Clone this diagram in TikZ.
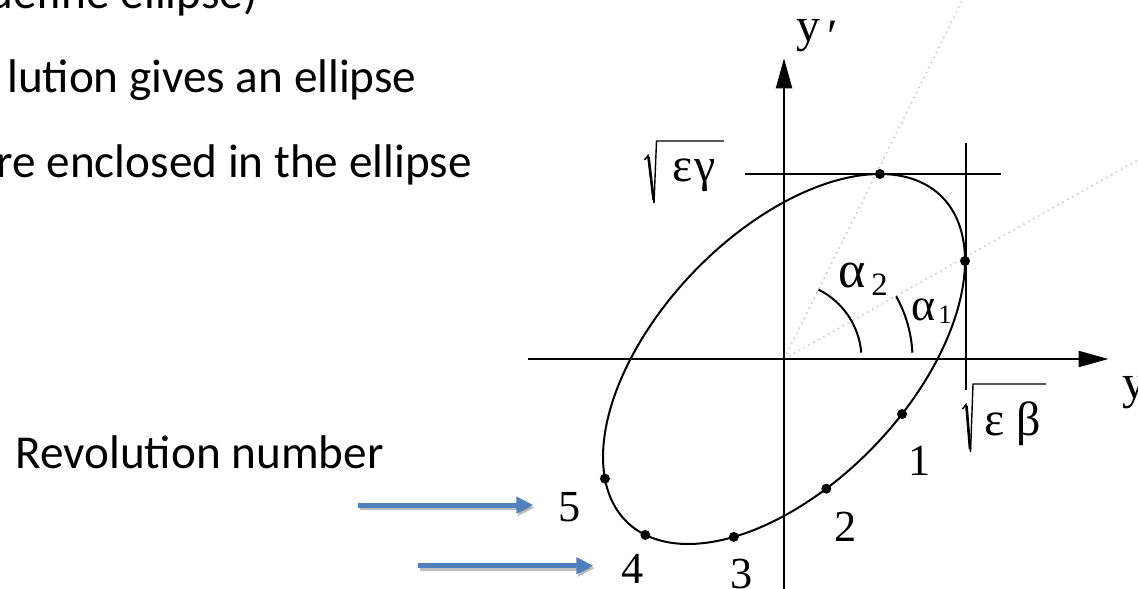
\documentclass[tikz,border=0pt]{standalone}
\usepackage{fontspec}
\setmainfont{Liberation Serif}
\newfontfamily\calibrifont{Carlito}
\newfontfamily\timesfont{Liberation Serif}
\usetikzlibrary{arrows.meta}
\definecolor{pptblue}{HTML}{4F81BD}
\definecolor{guidegray}{gray}{0.80}
\newcommand{\setfs}[1]{\fontsize{#1}{#1}\selectfont}
\tikzset{
  axisline/.style={line width=1.1pt,-{Triangle[length=15pt,width=8pt]}},
  plainline/.style={line width=1pt},
  curve/.style={line width=1pt},
  guide/.style={guidegray,line width=0.8pt,dotted},
  anglearc/.style={line width=1pt},
  pt/.style={circle,fill=black,inner sep=0pt,minimum size=5pt},
  bodytext/.style={inner sep=0pt,font=\calibrifont\setfs{23.6pt}},
  num/.style={inner sep=0pt,anchor=base,font=\timesfont\setfs{22.2pt}},
  greek/.style={inner sep=0pt,anchor=base west,font=\timesfont\setfs{24pt}},
  blueshadow/.style={black,opacity=0.25,line width=2.5pt,-{Triangle[length=8.5pt,width=8pt]}},
  bluearrow/.style={pptblue,line width=2.5pt,-{Triangle[length=8.5pt,width=8pt]}},
  radical/.style={line width=0.7pt,line join=miter}
}
\begin{document}
\begin{tikzpicture}[x=0.5pt,y=-0.5pt]
\useasboundingbox (0,0) rectangle (1138,588);
\clip (0,0) rectangle (1138,588);
\fill[white] (0,0) rectangle (1138,588);

% body text
\node[bodytext,anchor=base east] (t1) at (258,9) {define ellipse)};
\node[bodytext,anchor=base east] (t2) at (417,93) {lution gives an ellipse};
\node[bodytext,anchor=base east] (t3) at (472,177) {re enclosed in the ellipse};
\node[bodytext,anchor=base east] (rev) at (384,468.3) {Revolution number};

% origin and guides
\coordinate (O) at (784,359);
\coordinate (g1) at (962.5,0);
\coordinate (g2) at (1138,160);
\draw[guide] (O) -- (g1);
\draw[guide] (O) -- (g2);

% axes
\coordinate (xs) at (528,359);
\coordinate (xe) at (1108.5,359);
\coordinate (ys) at (784,590);
\coordinate (ye) at (784,58.3);
\draw[axisline] (xs) -- (xe);
\draw[axisline] (ys) -- (ye);

% tangent lines
\coordinate (hs) at (745,174);
\coordinate (he) at (1000.7,174);
\coordinate (vs) at (965.5,143.4);
\coordinate (ve) at (965.5,390);
\draw[plainline] (hs) -- (he);
\draw[plainline] (vs) -- (ve);

% ellipse
\draw[curve] plot[domain=0:360,samples=240] ({784+181*cos(\x)},{359-(98*cos(\x)+156.9*sin(\x))}) -- cycle;

% points
\foreach \n/\t in {top/58,rt/0,p1/310.7,p2/283.5,p3/253.9,p4/220,p5/188.3}{
  \node[pt] (\n) at ({784+181*cos(\t)},{359-(98*cos(\t)+156.9*sin(\t))}) {};
}

% angle arcs
\draw[anglearc] (O) ++(-4.7:77.5) arc[start angle=-4.7,end angle=-63.5,radius=77.5];
\draw[anglearc] (O) ++(-2.8:128.5) arc[start angle=-2.8,end angle=-29.2,radius=128.5];

% angle labels
\node[greek,font=\timesfont\setfs{26pt}] (a2) at (838.5,287) {α};
\node[greek,font=\timesfont\setfs{16.3pt}] (a2s) at (871,295) {2};
\node[greek,font=\timesfont\setfs{23pt}] (a1) at (911.5,320) {α};
\node[greek,font=\timesfont\setfs{13.3pt}] (a1s) at (938,323) {1};

% axis labels
\node[greek] (ylab) at (1122,398) {y};
\node[greek] (yplab) at (796,41.5) {y};
\node[greek] (prime) at (827,53) {′};

% sqrt labels
\draw[radical] (644.5,160) -- (648,155.5) -- (654,203) -- (656.5,141) -- (724,141);
\draw[radical,line width=1.3pt] (648.5,157) -- (653.6,200);
\node[greek] (eg1) at (672,182) {ε};
\node[greek] (eg2) at (694,182) {γ};
\draw[radical] (962.5,409) -- (966,404.5) -- (970.5,452) -- (973,384) -- (1046,384);
\draw[radical,line width=1.3pt] (966.5,406) -- (970,449);
\node[greek] (eb1) at (984,435) {ε};
\node[greek] (eb2) at (1016,435) {β};

% numbers
\node[num] (n1) at (920,475) {1};
\node[num] (n2) at (846,541.7) {2};
\node[num] (n3) at (742,588) {3};
\node[num] (n4) at (632.5,583) {4};
\node[num] (n5) at (570,521.7) {5};

% blue arrows
\coordinate (b1s) at (358.3,505);
\coordinate (b1e) at (533.3,505);
\coordinate (b2s) at (418.3,565.7);
\coordinate (b2e) at (593.3,565.7);
\draw[blueshadow] ([shift={(1.5,2.5)}]b1s) -- ([shift={(1.5,2.5)}]b1e);
\draw[blueshadow] ([shift={(1.5,2.5)}]b2s) -- ([shift={(1.5,2.5)}]b2e);
\draw[bluearrow] (b1s) -- (b1e);
\draw[bluearrow] (b2s) -- (b2e);
\end{tikzpicture}
\end{document}
